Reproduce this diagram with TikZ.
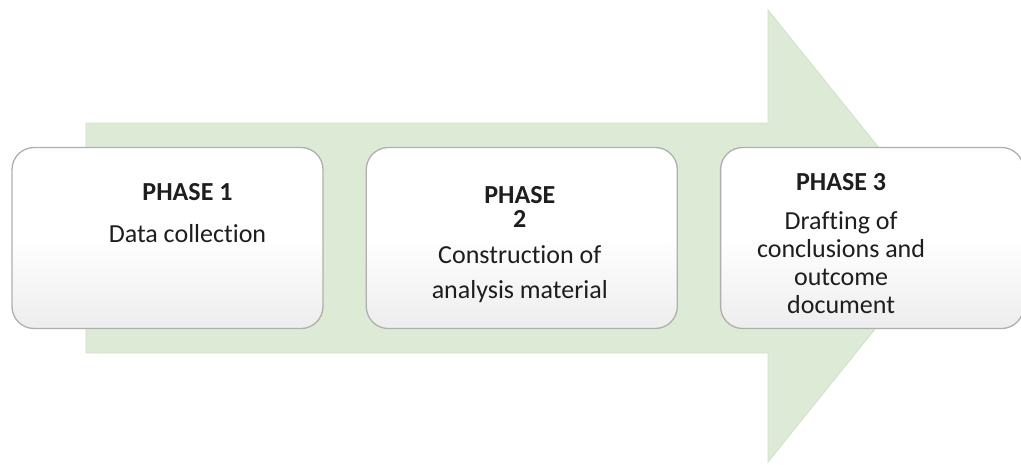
\documentclass[tikz,border=0pt]{standalone}
\usepackage{fontspec}
\setmainfont{Carlito}[Ligatures=NoCommon]
\usetikzlibrary{positioning}
\definecolor{arrowgreen}{RGB}{221,235,214}
\definecolor{arrowedge}{RGB}{208,225,201}
\definecolor{boxedge}{RGB}{175,175,175}
\definecolor{txt}{RGB}{30,30,30}
\tikzset{
  phasebox/.style={draw=boxedge, line width=1.3pt, rounded corners=22pt, top color=white, bottom color=gray!14, middle color=white, minimum width=311pt, minimum height=181pt, inner sep=0pt},
  phasetext/.style={align=center, text=txt, font=\fontsize{26}{28}\selectfont, inner sep=0pt}
}
\begin{document}
\begin{tikzpicture}[x=1pt, y=-1pt]
\useasboundingbox (0,0) rectangle (1021,464);
% big arrow in the back
\fill[arrowgreen, draw=arrowedge, line width=.8pt] (86,123)--(768,123)--(768,10)--(950,236)--(768,462)--(768,353)--(86,353)--cycle;
% the three phases
\node[phasebox] (phase1) at (167.5,238){};
\node[phasebox, right=42pt of phase1] (phase2){};
\node[phasebox, minimum width=303pt, right=42pt of phase2] (phase3){};
\node[phasetext] (phase1txt) at ([xshift=20pt, yshift=25pt]phase1.center){\textbf{PHASE 1}\\[14pt]Data collection};
\node[phasetext] (phase2txt) at ([xshift=-2pt, yshift=-7pt]phase2.center){\textbf{PHASE}\\[-4pt]\textbf{2}\\[8pt]Construction of\\[7pt]analysis material};
\node[phasetext] (phase3txt) at ([xshift=-31pt, yshift=-6pt]phase3.center){\textbf{PHASE 3}\\[11pt]Drafting of\\conclusions and\\outcome\\document};
\end{tikzpicture}
\end{document}
